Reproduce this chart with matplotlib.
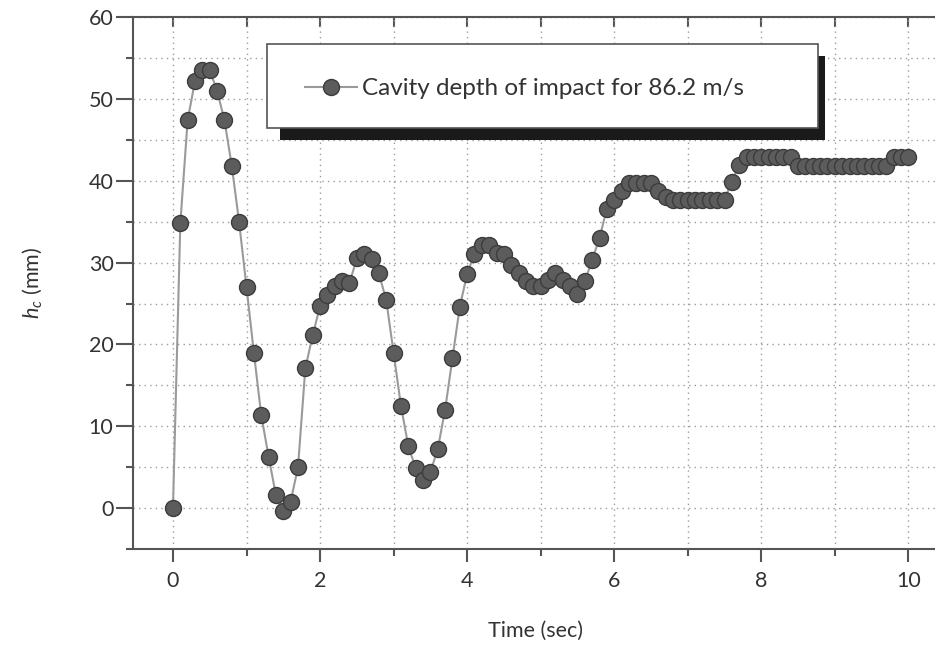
import matplotlib.pyplot as plt
from matplotlib.patches import Rectangle
from matplotlib.lines import Line2D
from matplotlib.ticker import MultipleLocator

plt.rcParams['font.family'] = ['Lato', 'DejaVu Sans']
plt.rcParams['mathtext.fontset'] = 'custom'
plt.rcParams['mathtext.it'] = 'Lato:italic'
plt.rcParams['mathtext.rm'] = 'Lato'

# Cavity depth (mm) sampled every 0.1 s
time_sec = [round(i * 0.1, 1) for i in range(101)]
depth_mm = [
    0.0, 34.8, 47.4, 52.2, 53.5, 53.5, 51.0, 47.4, 41.8, 34.9,
    27.0, 19.0, 11.4, 6.3, 1.6, -0.3, 0.8, 5.0, 17.1, 21.1,
    24.7, 26.0, 27.1, 27.8, 27.5, 30.5, 31.1, 30.4, 28.7, 25.4,
    19.0, 12.5, 7.6, 4.9, 3.5, 4.4, 7.2, 12.0, 18.3, 24.6,
    28.6, 31.1, 32.1, 32.1, 31.2, 31.0, 29.7, 28.7, 27.7, 27.1,
    27.1, 27.9, 28.7, 27.9, 27.1, 26.2, 27.7, 30.3, 33.0, 36.6,
    37.7, 38.7, 39.7, 39.7, 39.7, 39.7, 38.7, 38.0, 37.7, 37.7,
    37.7, 37.7, 37.7, 37.7, 37.7, 37.7, 39.9, 41.9, 42.9, 42.9,
    42.9, 42.9, 42.9, 42.9, 42.9, 41.8, 41.8, 41.8, 41.8, 41.8,
    41.8, 41.8, 41.8, 41.8, 41.8, 41.8, 41.8, 41.8, 42.9, 42.9,
    42.9,
]
legend_label = 'Cavity depth of impact for 86.2 m/s'

fig = plt.figure(figsize=(9.35, 6.46), dpi=100)
ax = fig.add_axes([0.1422, 0.150, 0.860, 0.8237])

ax.plot(time_sec, depth_mm, color='#9a9a9a', lw=1.5, marker='o', ms=11.5,
        markerfacecolor='#5c5c5c', markeredgecolor='#3c3c3c', mew=1.0, zorder=3)

ax.set_xlim(-0.544, 10.39)
ax.set_ylim(-5, 60)
ax.xaxis.set_major_locator(MultipleLocator(2))
ax.xaxis.set_minor_locator(MultipleLocator(1))
ax.yaxis.set_major_locator(MultipleLocator(10))
ax.yaxis.set_minor_locator(MultipleLocator(5))

ax.grid(which='both', linestyle=(0, (1, 3)), color='#9c9c9c', lw=1.0)
ax.set_axisbelow(True)

for s in ax.spines.values():
    s.set_color('#555555')
    s.set_linewidth(1.5)

ax.tick_params(axis='both', which='both', colors='#555555', labelcolor='#333333',
               labelsize=15.5, width=1.5)
ax.tick_params(axis='y', which='major', direction='out', length=12, pad=2)
ax.tick_params(axis='y', which='minor', direction='out', length=5)
ax.tick_params(axis='x', which='major', direction='out', length=9.5, pad=6)
ax.tick_params(axis='x', which='minor', direction='out', length=5)

# inward ticks on the top edge
top = ax.secondary_xaxis('top')
top.set_xticks(range(0, 11))
top.tick_params(direction='in', length=7, width=1.5, colors='#555555', labeltop=False)
top.spines['top'].set_visible(False)

ax.set_xlabel('Time (sec)', fontsize=15.5, color='#333333', labelpad=22)
ax.set_ylabel(r'$h_c$ (mm)', fontsize=15.5, color='#333333', labelpad=32)

# legend box with a solid drop shadow
ax.add_patch(Rectangle((0.183, 0.769), 0.678, 0.158, transform=ax.transAxes,
                       facecolor='#1a1a1a', edgecolor='none', zorder=5))
ax.add_patch(Rectangle((0.1667, 0.791), 0.6853, 0.158, transform=ax.transAxes,
                       facecolor='white', edgecolor='#555555', lw=1.2, zorder=6))
ax.add_line(Line2D([0.214, 0.279], [0.868, 0.868], transform=ax.transAxes,
                   color='#9a9a9a', lw=1.5, zorder=7))
ax.add_line(Line2D([0.2465], [0.868], transform=ax.transAxes, marker='o', ms=11.5,
                   markerfacecolor='#5c5c5c', markeredgecolor='#3c3c3c', zorder=8))
ax.text(0.285, 0.866, legend_label, transform=ax.transAxes, fontsize=17.5,
        color='#333333', va='center', ha='left', zorder=8)

fig.savefig('out.png', dpi=100)
